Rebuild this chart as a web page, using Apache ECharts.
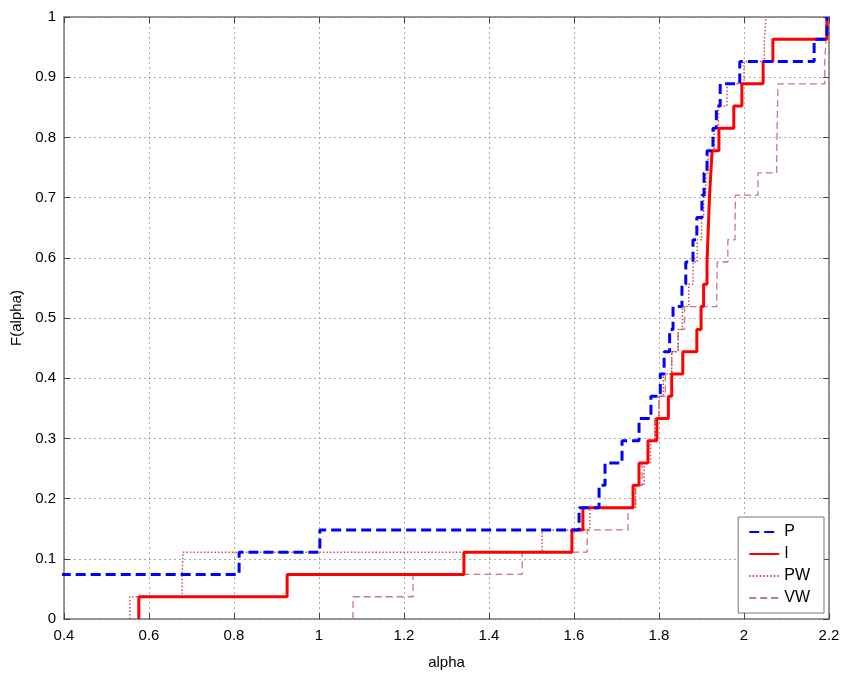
<!DOCTYPE html>
<html>
<head>
<meta charset="utf-8">
<script src="https://cdn.jsdelivr.net/npm/echarts@6/dist/echarts.min.js"></script>
<style>
  html,body{margin:0;padding:0;background:#fff;}
  #main{width:848px;height:675px;}
</style>
</head>
<body>
<div id="main"></div>
<script>
var fLevels = [0.037,0.074,0.111,0.148,0.185,0.222,0.259,0.296,0.333,0.370,
               0.407,0.444,0.481,0.519,0.556,0.593,0.630,0.667,0.704,0.741,
               0.778,0.815,0.852,0.889,0.926,0.963,1];

// alpha values where each curve jumps to the next level
var alphaP  = [0.25,0.30,0.812,1.002,1.612,1.659,1.673,1.713,1.753,1.781,
               1.803,1.812,1.825,1.833,1.854,1.863,1.880,1.889,1.901,1.906,
               1.913,1.927,1.935,1.944,1.990,2.165,2.195];
var alphaI  = [0.576,0.925,1.341,1.595,1.621,1.739,1.753,1.774,1.795,1.822,
               1.830,1.856,1.889,1.899,1.905,1.913,1.915,1.917,1.919,1.922,
               1.925,1.941,1.976,1.995,2.045,2.068,2.195];
var alphaPW = [0.555,0.678,0.680,1.525,1.637,1.745,1.765,1.780,1.790,1.800,
               1.810,1.830,1.845,1.855,1.870,1.880,1.890,1.900,1.905,1.910,
               1.915,1.930,1.940,1.960,2.000,2.048,2.052];
var alphaVW = [1.080,1.221,1.478,1.631,1.727,1.745,1.760,1.775,1.790,1.800,
               1.815,1.830,1.845,1.860,1.936,1.937,1.962,1.979,1.980,2.033,
               2.077,2.078,2.079,2.080,2.190,2.193,2.197];

var xTicks = [0.4,0.6,0.8,1,1.2,1.4,1.6,1.8,2,2.2];

function stairs(xs){
	var d=[[xs[0],0]];
	for(var i=0;i<xs.length;i++){
		d.push([xs[i],fLevels[i]]);
	}
	return d;
}

var chart=echarts.init(document.getElementById('main'));
var axisCol='#777';
var font='Liberation Sans, Arial, sans-serif';

var option={
	backgroundColor:'#fff',
	animation:false,
	grid:{left:64,right:19,top:17,bottom:53},
	legend:{
		orient:'vertical',
		right:24,
		bottom:62,
		padding:[7,14,7,10],
		itemGap:6,
		itemWidth:30,
		itemHeight:14,
		backgroundColor:'#fff',
		borderColor:axisCol,
		borderWidth:1,
		itemStyle:{opacity:0},
		textStyle:{fontFamily:font,fontSize:16,color:'#000'},
		data:['P','I','PW','VW']
	},
	xAxis:[{
		type:'value',min:0.4,max:2.2,interval:0.2,
		name:'alpha',nameLocation:'middle',nameGap:36,
		nameTextStyle:{fontFamily:font,fontSize:15,color:'#000'},
		axisLine:{onZero:false,lineStyle:{color:axisCol,width:1.5}},
		axisTick:{inside:true,length:6,lineStyle:{color:'#444'}},
		axisLabel:{fontFamily:font,fontSize:15,color:'#000',margin:9},
		splitLine:{show:true,lineStyle:{color:'#aaa',type:[2,3],width:1}}
	},{
		type:'value',min:0.4,max:2.2,interval:0.2,position:'top',
		axisLine:{onZero:false,lineStyle:{color:axisCol,width:1.5}},
		axisTick:{inside:true,length:6,lineStyle:{color:'#444'}},
		axisLabel:{show:false},splitLine:{show:false}
	}],
	yAxis:[{
		type:'value',min:0,max:1,interval:0.1,
		name:'F(alpha)',nameLocation:'middle',nameGap:39,
		nameTextStyle:{fontFamily:font,fontSize:15,color:'#000'},
		axisLine:{show:true,onZero:false,lineStyle:{color:axisCol,width:1.5}},
		axisTick:{show:true,inside:true,length:6,lineStyle:{color:'#444'}},
		axisLabel:{fontFamily:font,fontSize:15,color:'#000',margin:8},
		splitLine:{show:true,lineStyle:{color:'#aaa',type:[2,3],width:1}}
	},{
		type:'value',min:0,max:1,interval:0.1,position:'right',
		axisLine:{show:true,onZero:false,lineStyle:{color:axisCol,width:1.5}},
		axisTick:{show:true,inside:true,length:6,lineStyle:{color:'#444'}},
		axisLabel:{show:false},splitLine:{show:false}
	}],
	series:[{
		name:'P',type:'line',step:'end',symbol:'none',
		data:stairs(alphaP),
		lineStyle:{color:'#0000ff',width:3,type:[10,5]},
		itemStyle:{color:'#0000ff'},z:4
	},{
		name:'I',type:'line',step:'end',symbol:'none',
		data:stairs(alphaI),
		lineStyle:{color:'#ff0000',width:3,type:'solid'},
		itemStyle:{color:'#ff0000'},z:3
	},{
		name:'PW',type:'line',step:'end',symbol:'none',
		data:stairs(alphaPW),
		lineStyle:{color:'#d04a5a',width:1.5,type:[1.5,2]},
		itemStyle:{color:'#d04a5a'},z:2
	},{
		name:'VW',type:'line',step:'end',symbol:'none',
		data:stairs(alphaVW),
		lineStyle:{color:'#c47a84',width:1.3,type:[7,4]},
		itemStyle:{color:'#c47a84'},z:1
	}]
};
chart.setOption(option);
</script>
</body>
</html>
